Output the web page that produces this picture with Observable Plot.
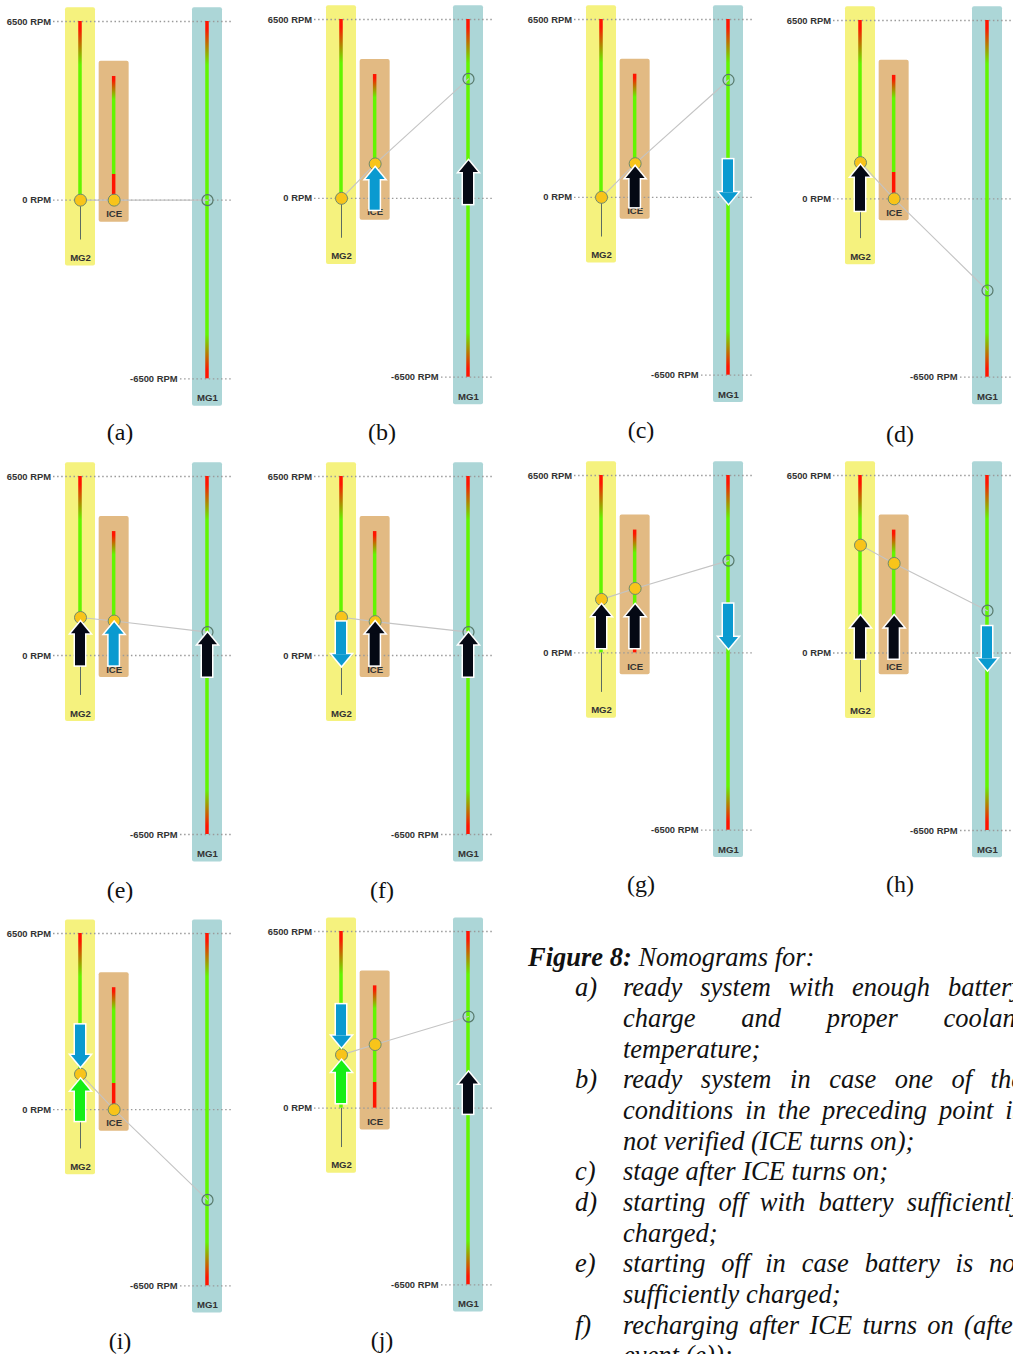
<!DOCTYPE html>
<html>
<head>
<meta charset="utf-8">
<title>Nomograms</title>
<script src="https://cdn.jsdelivr.net/npm/d3@7"></script>
<script src="https://cdn.jsdelivr.net/npm/@observablehq/plot@0.6"></script>
<style>
  html, body { margin: 0; padding: 0; background: #fff; overflow: hidden; }
  #page { position: relative; width: 1013px; height: 1354px; overflow: hidden; background: #fff; }
  .panel { position: absolute; width: 240px; }
  .panel svg { max-width: none; overflow: visible; background: transparent; }
  .tag { position: absolute; font-family: "Liberation Serif", "Times New Roman", serif; font-size: 24px; color: #111; transform: translate(-50%, -50%); white-space: nowrap; line-height: 1; }
  .caption { position: absolute; left: 528px; top: 941.5px; font-family: "Liberation Serif", "Times New Roman", serif; font-style: italic; font-size: 26.5px; line-height: 30.67px; color: #111; }
  .caption .head { white-space: nowrap; }
  .caption .item { position: relative; padding-left: 95px; width: 400px; }
  .caption .lbl { position: absolute; left: 47px; top: 0; }
  .caption .ln { white-space: nowrap; }
  .caption .ln.just { white-space: normal; text-align: justify; text-align-last: justify; }
</style>
</head>
<body>
<div id="page"></div>
<script>
// ---- Nomogram data -------------------------------------------------------
const panelIds = ["a", "b", "c", "d", "e", "f", "g", "h", "i", "j"];
const shafts = ["MG2", "ICE", "MG1"];

// Shaft speeds (RPM) at the operating point of each nomogram
const mg2Speed = [0, 0, 0, 1320, 1380, 1390, 1960, 3950, 1310, 1960];
const iceSpeed = [0, 1250, 1230, 0, 1250, 1230, 2360, 3280, 0, 2340];
const mg1Speed = [0, 4340, 4290, -3340, 850, 850, 3380, 1550, -3330, 3370];

// Torque arrows: panel, shaft, tail speed, tip speed, kind
const arrowPanel = ["b", "b", "c", "c", "d", "e", "e", "e", "f", "f", "f", "g", "g", "g", "h", "h", "h", "i", "i", "j", "j", "j"];
const arrowShaft = ["ICE", "MG1", "ICE", "MG1", "MG2", "MG2", "ICE", "MG1", "MG2", "ICE", "MG1", "MG2", "ICE", "MG1", "MG2", "ICE", "MG1", "MG2", "MG2", "MG2", "MG2", "MG1"];
const arrowTail = [-430, -220, -375, 1370, -450, -375, -375, -780, 1210, -375, -780, 160, 160, 1780, -220, -220, 960, 3120, -430, 3800, 170, -220];
const arrowTip = [1120, 1375, 1130, -230, 1230, 1230, 1210, 830, -375, 1230, 830, 1770, 1770, 160, 1365, 1365, -620, 1590, 1130, 2245, 1760, 1330];
const arrowKind = ["load", "drive", "drive", "load", "drive", "drive", "load", "drive", "load", "drive", "drive", "drive", "drive", "load", "drive", "drive", "load", "load", "regen", "load", "regen", "drive"];
const arrowKinds = ["drive", "load", "regen"];

// Speed scale marks
const speedTicks = [6500, 0, -6500];

// Speed limits drawn along each shaft gauge
const gaugeRange = {MG2: [6500, 0], ICE: [4500, 0], MG1: [6500, -6500]};
const mg2ReverseEnd = -1450;
const iceIdle = 950;

// Caption
const captionHead = ["Figure 8:", " Nomograms for:"];
const captionLabels = ["a)", "b)", "c)", "d)", "e)", "f)"];
const captionLines = [
  ["ready system with enough battery", "charge and proper coolant", "temperature;"],
  ["ready system in case one of the", "conditions in the preceding point is", "not verified (ICE turns on);"],
  ["stage after ICE turns on;"],
  ["starting off with battery sufficiently", "charged;"],
  ["starting off in case battery is not", "sufficiently charged;"],
  ["recharging after ICE turns on (after", "event (e));"]
];

// ---- Layout and style ----------------------------------------------------
const panelLeft = [0, 261, 520.5, 779.5, 0, 261, 520.5, 780, -0.5, 261];
const panelTop = [21, 19.3, 19.3, 20, 476, 476, 475, 475, 932.7, 930.7];      // 6500 RPM line
const panelBottom = [378.3, 377, 375, 376.7, 834, 834, 829.7, 830, 1285, 1284]; // -6500 RPM line
const tagPos = [[120, 432], [382, 432], [641, 430], [900, 434], [120, 890], [382, 890], [641, 884], [900, 884], [120, 1341], [382, 1340]];

const lever = {MG2: 0, ICE: 0.265, MG1: 1};   // position of each shaft on the lever
const pxPerLever = 127;
const mg2AxisPx = 80;
const panelWidth = 240, marginLeft = 53, marginRight = 7, marginTop = 21, marginBottom = 40;
const xDomain = [(marginLeft - mg2AxisPx) / pxPerLever, (panelWidth - marginRight - mg2AxisPx) / pxPerLever];
const half = px => px / pxPerLever;

const housing = {
  MG2: {top: 7000, bottom: -2400, fill: "#f5f27e"},
  ICE: {top: 5050, bottom: -800, fill: "#e2ba83"},
  MG1: {top: 7000, bottom: -7500, fill: "#acd6d7"}
};
const RED = "#ff1400", GREEN = "#62f500";
const gaugeStops = {
  MG2: [[6500, RED], [6200, RED], [4900, GREEN], [0, GREEN]],
  ICE: [[4500, RED], [4350, RED], [3650, GREEN], [iceIdle, GREEN], [iceIdle, RED], [0, RED]],
  MG1: [[6500, RED], [6200, RED], [4900, GREEN], [-4900, GREEN], [-6200, RED], [-6500, RED]]
};
const arrowColors = ["#050914", "#0a9ad0", "#16ee16"];

// Arrow heads with the apex at the anchor point
const headUp = {draw(ctx) { ctx.moveTo(0, 0); ctx.lineTo(9.5, 11.5); ctx.lineTo(-9.5, 11.5); ctx.closePath(); }};
const headDown = {draw(ctx) { ctx.moveTo(0, 0); ctx.lineTo(9.5, -11.5); ctx.lineTo(-9.5, -11.5); ctx.closePath(); }};

const page = document.getElementById("page");

// Shared gradients for the speed gauges
const defs = d3.select(page).append("svg")
  .attr("width", 0).attr("height", 0)
  .style("position", "absolute")
  .append("defs");
for (const s of shafts) {
  const [top, bottom] = gaugeRange[s];
  const g = defs.append("linearGradient").attr("id", `gauge-${s}`)
    .attr("x1", 0).attr("y1", 0).attr("x2", 0).attr("y2", 1);
  for (const [rpm, color] of gaugeStops[s]) {
    g.append("stop").attr("offset", (top - rpm) / (top - bottom)).attr("stop-color", color);
  }
}

const arrows = arrowPanel.map((p, k) => ({panel: p, shaft: arrowShaft[k], tail: arrowTail[k], tip: arrowTip[k], kind: arrowKind[k]}));
const speedOf = {MG2: mg2Speed, ICE: iceSpeed, MG1: mg1Speed};

const labelStyle = {fill: "#333", fontWeight: "bold", fontSize: 9.4};
const gridStyle = {stroke: "#9a9a9a", strokeWidth: 1.3, strokeDasharray: "1.5,2.6"};

function arrowMarks(data, paint) {
  const up = a => a.tip > a.tail, down = a => a.tip < a.tail;
  const x1 = a => lever[a.shaft] - half(5), x2 = a => lever[a.shaft] + half(5);
  const x = a => lever[a.shaft];
  return [
    Plot.rect(data, {filter: up, x1, x2, y1: "tail", y2: "tip", insetTop: 11, ...paint}),
    Plot.rect(data, {filter: down, x1, x2, y1: "tail", y2: "tip", insetBottom: 11, ...paint}),
    Plot.dot(data, {filter: up, x, y: "tip", symbol: headUp, ...paint}),
    Plot.dot(data, {filter: down, x, y: "tip", symbol: headDown, ...paint})
  ];
}

function nomogram(i) {
  const pts = shafts.map(s => ({shaft: s, rpm: speedOf[s][i]}));
  const panelArrows = arrows.filter(a => a.panel === panelIds[i]);
  const span = panelBottom[i] - panelTop[i];
  return Plot.plot({
    width: panelWidth,
    height: marginTop + span + marginBottom,
    marginTop, marginBottom, marginLeft, marginRight,
    x: {domain: xDomain, axis: null},
    y: {domain: [-6500, 6500], axis: null},
    color: {domain: arrowKinds, range: arrowColors},
    style: {background: "transparent", overflow: "visible", fontFamily: "'Liberation Sans', Arial, sans-serif"},
    marks: [
      // shaft housings
      shafts.map(s => Plot.rect([s], {
        x1: lever[s] - half(15), x2: lever[s] + half(15),
        y1: housing[s].bottom, y2: housing[s].top,
        fill: housing[s].fill, rx: 2
      })),
      // speed reference lines
      Plot.ruleY(speedTicks.filter(d => d > -6500), gridStyle),
      Plot.ruleY(speedTicks.filter(d => d === -6500), {x1: lever.MG1 - half(27), x2: xDomain[1], ...gridStyle}),
      Plot.text(speedTicks.filter(d => d > -6500), {y: d => d, frameAnchor: "left", dx: -2.5, textAnchor: "end", text: d => `${d} RPM`, ...labelStyle}),
      Plot.text(speedTicks.filter(d => d === -6500), {x: lever.MG1, y: d => d, dx: -30, textAnchor: "end", text: d => `${d} RPM`, ...labelStyle}),
      // shaft names
      Plot.text(shafts, {x: s => lever[s], y: s => housing[s].bottom, dy: -8, text: s => s, ...labelStyle, fontSize: 9.6}),
      // gauges
      Plot.ruleX([lever.MG2], {y1: 0, y2: mg2ReverseEnd, stroke: "#5b6b62", strokeWidth: 1}),
      shafts.map(s => Plot.rect([s], {
        x1: lever[s] - half(1.75), x2: lever[s] + half(1.75),
        y1: gaugeRange[s][1], y2: gaugeRange[s][0],
        fill: `url(#gauge-${s})`
      })),
      // lever through the three operating points
      Plot.line(pts, {x: p => lever[p.shaft], y: "rpm", stroke: "#c4c4c4", strokeWidth: 1.1}),
      Plot.dot(pts.filter(p => p.shaft !== "MG1"), {x: p => lever[p.shaft], y: "rpm", r: 6, fill: "#f8c41a", stroke: "#6e8a6c", strokeWidth: 1}),
      Plot.dot(pts.filter(p => p.shaft === "MG1"), {x: p => lever[p.shaft], y: "rpm", r: 5.5, fill: "none", stroke: "#57796b", strokeWidth: 1.2}),
      // torque arrows: white outline first, then the coloured fill
      arrowMarks(panelArrows, {fill: "white", stroke: "white", strokeWidth: 3, strokeLinejoin: "miter"}),
      arrowMarks(panelArrows, {fill: "kind"})
    ]
  });
}

panelIds.forEach((id, i) => {
  const wrap = document.createElement("div");
  wrap.className = "panel";
  wrap.style.left = `${panelLeft[i]}px`;
  wrap.style.top = `${panelTop[i] - marginTop}px`;
  wrap.appendChild(nomogram(i));
  page.appendChild(wrap);

  const tag = document.createElement("div");
  tag.className = "tag";
  tag.style.left = `${tagPos[i][0]}px`;
  tag.style.top = `${tagPos[i][1]}px`;
  tag.textContent = `(${id})`;
  page.appendChild(tag);
});

// Caption
const cap = document.createElement("div");
cap.className = "caption";
const head = document.createElement("div");
head.className = "head";
const b = document.createElement("b");
b.textContent = captionHead[0];
head.appendChild(b);
head.appendChild(document.createTextNode(captionHead[1]));
cap.appendChild(head);
captionLines.forEach((lines, k) => {
  const item = document.createElement("div");
  item.className = "item";
  const lbl = document.createElement("span");
  lbl.className = "lbl";
  lbl.textContent = captionLabels[k];
  item.appendChild(lbl);
  lines.forEach((t, n) => {
    const ln = document.createElement("div");
    ln.className = n < lines.length - 1 ? "ln just" : "ln";
    ln.textContent = t;
    item.appendChild(ln);
  });
  cap.appendChild(item);
});
page.appendChild(cap);
</script>
</body>
</html>
